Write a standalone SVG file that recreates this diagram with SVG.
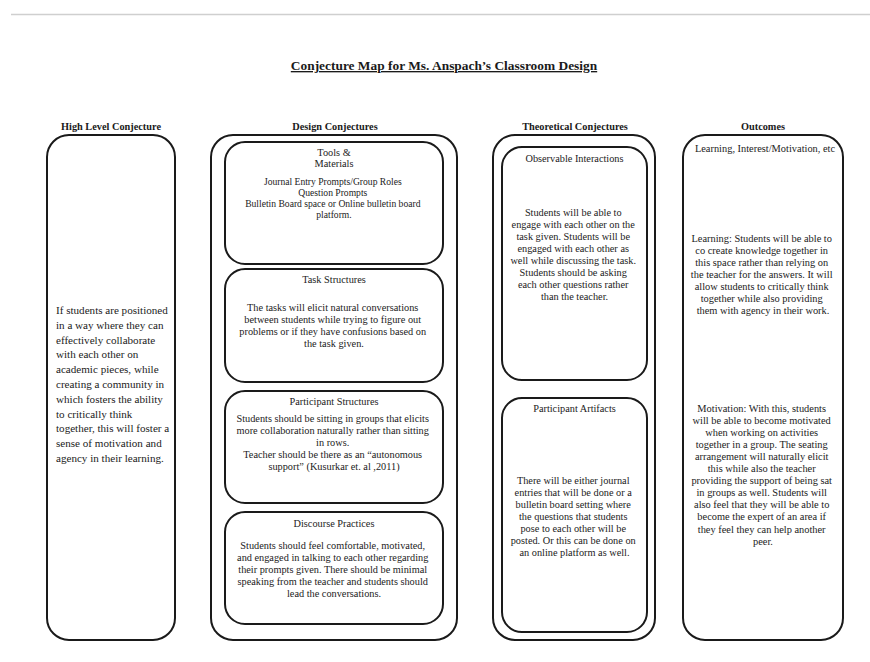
<svg xmlns="http://www.w3.org/2000/svg" width="870" height="662" viewBox="0 0 870 662">
<style>
  .bg { fill: #ffffff; }
  .box { fill: #ffffff; stroke: #1a1a1a; stroke-width: 2; }
  .title { font-family: "Liberation Serif", "Times New Roman", serif; font-size: 13.4px; font-weight: bold; fill: #1a1a1a; text-anchor: middle; text-decoration: underline; }
  .head { font-family: "Liberation Serif", "Times New Roman", serif; font-size: 10.3px; font-weight: bold; fill: #1a1a1a; text-anchor: middle; }
  .t { font-family: "Liberation Serif", "Times New Roman", serif; fill: #222222; text-anchor: middle; }
  .s96 { font-size: 9.6px; }
  .s103 { font-size: 10.3px; }
  .s11 { font-size: 10.4px; }
  .left { font-family: "Liberation Serif", "Times New Roman", serif; font-size: 11.1px; fill: #222222; text-anchor: start; }
</style>
<rect class="bg" x="0" y="0" width="870" height="662"/>
<line x1="11" y1="14.5" x2="870" y2="14.5" stroke="#cfcfcf" stroke-width="1.5"/>
<text class="title" x="444" y="70">Conjecture Map for Ms. Anspach’s Classroom Design</text>

<g id="headers">
  <text class="head" x="111" y="130">High Level Conjecture</text>
  <text class="head" x="335" y="130">Design Conjectures</text>
  <text class="head" x="575" y="130">Theoretical Conjectures</text>
  <text class="head" x="763" y="130">Outcomes</text>
</g>

<g id="connectors"></g>

<g id="high-level">
  <rect class="box" x="47" y="135" width="128" height="505" rx="22"/>
  <text class="left" y="314">
    <tspan x="56">If students are positioned</tspan>
    <tspan x="56" dy="14.8">in a way where they can</tspan>
    <tspan x="56" dy="14.8">effectively collaborate</tspan>
    <tspan x="56" dy="14.8">with each other on</tspan>
    <tspan x="56" dy="14.8">academic pieces, while</tspan>
    <tspan x="56" dy="14.8">creating a community in</tspan>
    <tspan x="56" dy="14.8">which fosters the ability</tspan>
    <tspan x="56" dy="14.8">to critically think</tspan>
    <tspan x="56" dy="14.8">together, this will foster a</tspan>
    <tspan x="56" dy="14.8">sense of motivation and</tspan>
    <tspan x="56" dy="14.8">agency in their learning.</tspan>
  </text>
</g>

<g id="design-conjectures">
  <rect class="box" x="211" y="135" width="246" height="505" rx="22"/>
</g>

<g id="tools-materials">
  <rect class="box" x="225" y="142" width="218" height="122" rx="20"/>
  <text class="t s103" x="334" y="155.5">Tools &amp;</text>
  <text class="t s103" x="334" y="166.5">Materials</text>
  <text class="t s96" y="184.5">
    <tspan x="334">Journal Entry Prompts/Group Roles</tspan>
    <tspan x="334" dy="11">Question Prompts</tspan>
    <tspan x="334" dy="11">Bulletin Board space or Online bulletin board</tspan>
    <tspan x="334" dy="11">platform.</tspan>
  </text>
</g>

<g id="task-structures">
  <rect class="box" x="225" y="269" width="218" height="113" rx="20"/>
  <text class="t s103" x="334" y="282.5">Task Structures</text>
  <text class="t s103" y="310.5">
    <tspan x="334">The tasks will elicit natural conversations</tspan>
    <tspan x="334" dy="12">between students while trying to figure out</tspan>
    <tspan x="334" dy="12">problems or if they have confusions based on</tspan>
    <tspan x="334" dy="12">the task given.</tspan>
  </text>
</g>

<g id="participant-structures">
  <rect class="box" x="225" y="391" width="218" height="112" rx="20"/>
  <text class="t s103" x="334" y="404.5">Participant Structures</text>
  <text class="t s103" y="421.5">
    <tspan x="334">Students should be sitting in groups that elicits</tspan>
    <tspan x="334" dy="12">more collaboration naturally rather than sitting</tspan>
    <tspan x="334" dy="12">in rows.</tspan>
    <tspan x="334" dy="12">Teacher should be there as an “autonomous</tspan>
    <tspan x="334" dy="12">support” (Kusurkar et. al ,2011)</tspan>
  </text>
</g>

<g id="discourse-practices">
  <rect class="box" x="225" y="512" width="218" height="112" rx="20"/>
  <text class="t s103" x="334" y="526.5">Discourse Practices</text>
  <text class="t s103" y="548.5">
    <tspan x="334">Students should feel comfortable, motivated,</tspan>
    <tspan x="334" dy="12">and engaged in talking to each other regarding</tspan>
    <tspan x="334" dy="12">their prompts given. There should be minimal</tspan>
    <tspan x="334" dy="12">speaking from the teacher and students should</tspan>
    <tspan x="334" dy="12">lead the conversations.</tspan>
  </text>
</g>

<g id="theoretical-conjectures">
  <rect class="box" x="493" y="135" width="162" height="505" rx="22"/>
</g>

<g id="observable-interactions">
  <rect class="box" x="502" y="147" width="145" height="233" rx="20"/>
  <text class="t s103" x="574.5" y="161.5">Observable Interactions</text>
  <text class="t s103" y="215.5">
    <tspan x="574.5">Students will be able to</tspan>
    <tspan x="574.5" dy="12">engage with each other on the</tspan>
    <tspan x="574.5" dy="12">task given. Students will be</tspan>
    <tspan x="574.5" dy="12">engaged with each other as</tspan>
    <tspan x="574.5" dy="12">well while discussing the task.</tspan>
    <tspan x="574.5" dy="12">Students should be asking</tspan>
    <tspan x="574.5" dy="12">each other questions rather</tspan>
    <tspan x="574.5" dy="12">than the teacher.</tspan>
  </text>
</g>

<g id="participant-artifacts">
  <rect class="box" x="502" y="398" width="145" height="234" rx="20"/>
  <text class="t s103" x="574.5" y="411.5">Participant Artifacts</text>
  <text class="t s103" y="483.5">
    <tspan x="574.5">There will be either journal</tspan>
    <tspan x="574.5" dy="12.1">entries that will be done or a</tspan>
    <tspan x="574.5" dy="12.1">bulletin board setting where</tspan>
    <tspan x="574.5" dy="12.1">the questions that students</tspan>
    <tspan x="574.5" dy="12.1">pose to each other will be</tspan>
    <tspan x="574.5" dy="12.1">posted. Or this can be done on</tspan>
    <tspan x="574.5" dy="12.1">an online platform as well.</tspan>
  </text>
</g>

<g id="outcomes">
  <rect class="box" x="683" y="135" width="160" height="505" rx="22"/>
  <text class="t s11" x="765" y="152">Learning, Interest/Motivation, etc</text>
  <text class="t s11" y="241.5">
    <tspan x="763">Learning: Students will be able to</tspan>
    <tspan x="763" dy="12.1">co create knowledge together in</tspan>
    <tspan x="763" dy="12.1">this space rather than relying on</tspan>
    <tspan x="763" dy="12.1">the teacher for the answers. It will</tspan>
    <tspan x="763" dy="12.1">allow students to critically think</tspan>
    <tspan x="763" dy="12.1">together while also providing</tspan>
    <tspan x="763" dy="12.1">them with agency in their work.</tspan>
  </text>
  <text class="t s11" y="411.5">
    <tspan x="763">Motivation: With this, students</tspan>
    <tspan x="763" dy="12.1">will be able to become motivated</tspan>
    <tspan x="763" dy="12.1">when working on activities</tspan>
    <tspan x="763" dy="12.1">together in a group. The seating</tspan>
    <tspan x="763" dy="12.1">arrangement will naturally elicit</tspan>
    <tspan x="763" dy="12.1">this while also the teacher</tspan>
    <tspan x="763" dy="12.1">providing the support of being sat</tspan>
    <tspan x="763" dy="12.1">in groups as well. Students will</tspan>
    <tspan x="763" dy="12.1">also feel that they will be able to</tspan>
    <tspan x="763" dy="12.1">become the expert of an area if</tspan>
    <tspan x="763" dy="12.1">they feel they can help another</tspan>
    <tspan x="763" dy="12.1">peer.</tspan>
  </text>
</g>
</svg>
